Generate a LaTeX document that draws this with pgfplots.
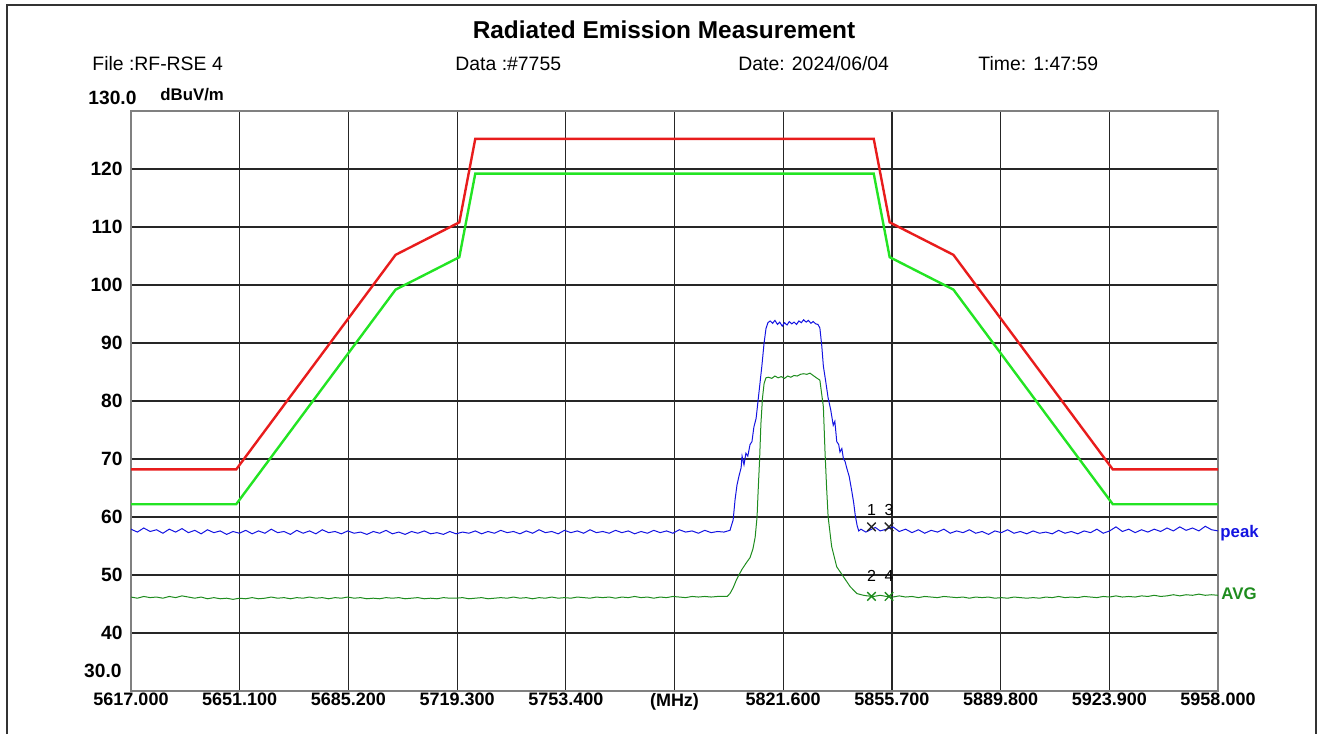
\documentclass[border=0pt]{standalone}
\usepackage{pgfplots}
\pgfplotsset{compat=1.18}
\usepackage{fontspec}
\setmainfont{Liberation Sans}

\definecolor{limred}{RGB}{232,28,28}
\definecolor{limgreen}{RGB}{35,228,35}
\definecolor{pkblue}{RGB}{20,20,225}
\definecolor{avgreen}{RGB}{30,140,30}

\begin{document}
\begin{tikzpicture}
% page = 1323 x 734 px, 1 px = 0.5 pt
\useasboundingbox (0,0) rectangle (661.5pt,367pt);
\draw[black!80, line width=1.3pt] (3.5pt,0) -- (3.5pt,364.5pt) -- (658pt,364.5pt) -- (658pt,0);

\node[font=\bfseries\fontsize{12.2}{14}\selectfont] at (332pt,352pt) {Radiated Emission Measurement};
\begin{scope}[every node/.style={anchor=west, inner sep=0pt, font=\fontsize{9.7}{11}\selectfont}]
  \node at (46pt,335pt) {File :RF-RSE 4};
  \node at (227.5pt,335pt) {Data :\#7755};
  \node at (369pt,335pt) {Date: 2024/06/04};
  \node at (489pt,335pt) {Time: 1:47:59};
  \node[font=\bfseries\fontsize{9.6}{11}\selectfont] at (44pt,318pt) {130.0};
  \node[font=\bfseries\fontsize{8.4}{10}\selectfont] at (80pt,319.5pt) {dBuV/m};
\end{scope}
\node[anchor=east, inner sep=0pt, font=\bfseries\fontsize{9.6}{11}\selectfont] at (61pt,31.5pt) {30.0};

\begin{axis}[
  at={(65.5pt,21.5pt)}, anchor=south west,
  scale only axis, width=543.5pt, height=290pt,
  xmin=5617, xmax=5958, ymin=30, ymax=130,
  xtick={5651.1,5685.2,5719.3,5753.4,5787.5,5821.6,5855.7,5889.8,5923.9},
  xticklabels={5651.100,5685.200,5719.300,5753.400,(MHz),5821.600,5855.700,5889.800,5923.900},
  extra x ticks={5617,5958},
  extra x tick labels={5617.000,5958.000},
  extra x tick style={grid=none},
  ytick={40,50,...,120},
  /pgf/number format/assume math mode=true,
  grid=major,
  major grid style={black!85, line width=0.6pt},
  axis line style={black!50, line width=1pt},
  tick style={draw=none},
  x tick label style={font=\bfseries\fontsize{9}{10}\selectfont, inner sep=1pt},
  y tick label style={font=\bfseries\fontsize{9.6}{11}\selectfont, inner sep=1pt, xshift=-3pt},
  clip mode=individual,
]
% limit lines
\addplot[limred, line width=1.2pt] coordinates {
  (5617,68.2) (5650,68.2) (5700,105.2) (5720,110.8) (5725,125.2)
  (5850,125.2) (5855,110.8) (5875,105.2) (5925,68.2) (5958,68.2)};
\addplot[limgreen, line width=1.2pt] coordinates {
  (5617,62.2) (5650,62.2) (5700,99.2) (5720,104.8) (5725,119.2)
  (5850,119.2) (5855,104.8) (5875,99.2) (5925,62.2) (5958,62.2)};

% peak trace
\addplot[pkblue, line width=0.5pt] coordinates {
  (5617,57.9) (5619,57.4) (5621,58.1) (5623,57.5) (5625,57.8) (5627,57.2) (5629,57.9) (5631,57.4)
  (5633,58.0) (5635,57.3) (5637,57.7) (5639,57.1) (5641,57.8) (5643,57.3) (5645,57.6) (5647,57.0)
  (5649,57.5) (5651,57.2) (5653,57.7) (5655,57.1) (5657,57.6) (5659,57.2) (5661,57.9) (5663,57.3)
  (5665,57.5) (5667,57.0) (5669,57.7) (5671,57.2) (5673,57.6) (5675,57.1) (5677,57.8) (5679,57.3)
  (5681,57.5) (5683,57.1) (5685,57.6) (5687,57.2) (5689,57.4) (5691,57.0) (5693,57.5) (5695,57.2)
  (5697,57.7) (5699,57.1) (5701,57.4) (5703,57.0) (5705,57.5) (5707,57.2) (5709,57.6) (5711,57.1)
  (5713,57.3) (5715,57.0) (5717,57.5) (5719,57.1) (5721,57.4) (5723,57.2) (5725,57.6) (5727,57.1)
  (5729,57.5) (5731,57.2) (5733,57.7) (5735,57.3) (5737,57.5) (5739,57.1) (5741,57.6) (5743,57.2)
  (5745,57.8) (5747,57.3) (5749,57.5) (5751,57.1) (5753,57.7) (5755,57.3) (5757,57.6) (5759,57.2)
  (5761,57.8) (5763,57.3) (5765,57.5) (5767,57.2) (5769,57.7) (5771,57.3) (5773,57.6) (5775,57.1)
  (5777,57.5) (5779,57.2) (5781,57.7) (5783,57.3) (5785,57.6) (5787,57.2) (5789,57.8) (5791,57.4)
  (5793,57.6) (5795,57.2) (5797,57.7) (5799,57.3) (5801,57.5) (5803,57.4) (5804.9,57.7)
  (5805.9,59.5) (5806.5,63.0) (5807.1,65.5) (5807.7,67.0) (5808.4,68.5) (5808.7,70.5) (5809.3,69.0)
  (5809.9,71.0) (5810.5,70.5) (5811.2,72.5) (5811.8,73.0) (5812.4,75.5) (5813.1,77.0) (5813.7,80.0)
  (5814.3,83.0) (5814.9,86.0) (5815.6,90.0) (5816.2,92.5) (5816.8,93.5)
  (5817.5,93.8) (5818.3,93.4) (5819.0,93.9) (5819.8,93.2) (5820.5,93.6) (5821.3,92.9) (5822.0,93.5)
  (5822.8,93.1) (5823.5,93.7) (5824.3,93.3) (5825.0,93.6) (5825.8,93.2) (5826.5,93.8) (5827.3,93.5)
  (5828.0,94.0) (5828.8,93.6) (5829.5,93.9) (5830.3,93.4) (5831.0,93.7) (5831.8,93.3) (5832.5,93.2)
  (5833.1,92.6) (5833.7,89.5) (5834.2,86.0) (5834.9,83.5) (5835.7,80.5) (5836.5,78.5) (5837.3,75.8)
  (5837.8,76.5) (5838.4,73.0) (5839.0,72.5) (5839.4,71.2) (5840.0,71.8) (5840.5,70.0) (5841.0,69.6)
  (5841.5,68.5) (5842.3,67.0) (5843.1,64.5) (5843.7,62.5) (5844.2,60.3) (5844.8,58.5) (5845.3,57.6)
  (5846,57.9) (5847.5,57.4) (5849,57.8) (5850.5,58.2) (5852,57.6) (5854,57.9) (5856,58.3) (5858,57.5)
  (5860,57.9) (5862,57.3) (5864,57.8) (5866,57.2) (5868,57.7) (5870,57.4) (5872,57.9) (5874,57.2)
  (5876,57.6) (5878,57.3) (5880,57.8) (5882,57.2) (5884,57.5) (5886,57.0) (5888,57.6) (5890,57.3)
  (5892,57.8) (5894,57.2) (5896,57.5) (5898,57.1) (5900,57.6) (5902,57.2) (5904,57.4) (5906,57.1)
  (5908,57.7) (5910,57.2) (5912,57.5) (5914,57.1) (5916,57.6) (5918,57.3) (5920,57.9) (5922,57.2)
  (5924,57.6) (5926,58.3) (5928,57.5) (5930,57.9) (5932,57.3) (5934,57.8) (5936,57.4) (5938,57.9)
  (5940,57.5) (5942,58.1) (5944,57.6) (5946,58.3) (5948,57.7) (5950,58.1) (5952,57.6) (5954,58.4)
  (5956,57.8) (5958,57.6)};

% average trace
\addplot[avgreen, line width=0.5pt] coordinates {
  (5617,46.2) (5619,46.0) (5621,46.3) (5623,46.1) (5625,46.2) (5627,46.0) (5629,46.3) (5631,46.1)
  (5633,46.4) (5635,46.2) (5637,46.0) (5639,46.2) (5641,45.9) (5643,46.1) (5645,45.9) (5647,46.0)
  (5649,45.8) (5651,46.0) (5653,45.9) (5655,46.1) (5657,45.9) (5659,46.0) (5661,46.2) (5663,46.0)
  (5665,46.1) (5667,45.9) (5669,46.1) (5671,46.0) (5673,46.2) (5675,46.0) (5677,46.1) (5679,45.9)
  (5681,46.1) (5683,46.0) (5685,46.2) (5687,46.0) (5689,46.1) (5691,45.9) (5693,46.0) (5695,45.9)
  (5697,46.1) (5699,46.0) (5701,46.1) (5703,45.9) (5705,46.0) (5707,46.1) (5709,45.9) (5711,46.0)
  (5713,45.9) (5715,46.1) (5717,46.0) (5719,46.0) (5721,46.1) (5723,45.9) (5725,46.0) (5727,46.1)
  (5729,45.9) (5731,46.0) (5733,46.1) (5735,46.0) (5737,46.2) (5739,46.0) (5741,46.1) (5743,45.9)
  (5745,46.1) (5747,46.0) (5749,46.2) (5751,46.0) (5753,46.1) (5755,46.0) (5757,46.2) (5759,46.1)
  (5761,46.0) (5763,46.2) (5765,46.1) (5767,46.2) (5769,46.0) (5771,46.2) (5773,46.1) (5775,46.3)
  (5777,46.1) (5779,46.2) (5781,46.0) (5783,46.2) (5785,46.1) (5787,46.3) (5789,46.2) (5791,46.1)
  (5793,46.3) (5795,46.2) (5797,46.3) (5799,46.2) (5801,46.3) (5803,46.3)
  (5804.0,46.3) (5804.9,46.8) (5805.9,47.8) (5806.8,49.0) (5807.7,50.0) (5808.7,51.0) (5809.9,52.0)
  (5811.2,53.0) (5812.1,54.5) (5812.8,56.5) (5813.4,60.0) (5813.7,64.0) (5814.2,70.0) (5814.6,76.0)
  (5815.1,80.5) (5815.6,83.0) (5816.2,84.0)
  (5817,84.1) (5818,83.9) (5819,84.3) (5820,84.0) (5821,84.2) (5822,83.9) (5823,84.3) (5824,84.1)
  (5825,84.4) (5826,84.3) (5827,84.6) (5828,84.7) (5829,84.6) (5830,84.8) (5831,84.4) (5832,84.0)
  (5833.1,83.6) (5834.2,79.0) (5834.7,71.5) (5835.2,65.2) (5835.7,60.0) (5836.8,54.9) (5838.4,51.4)
  (5840.5,49.7) (5842.6,48.0) (5844.7,46.8) (5846.8,46.5)
  (5848,46.4) (5850,46.3) (5852,46.5) (5854,46.3) (5856,46.2) (5858,46.4) (5860,46.2) (5862,46.3)
  (5864,46.1) (5866,46.3) (5868,46.2) (5870,46.1) (5872,46.3) (5874,46.2) (5876,46.1) (5878,46.2)
  (5880,46.0) (5882,46.2) (5884,46.1) (5886,46.2) (5888,46.0) (5890,46.1) (5892,46.0) (5894,46.2)
  (5896,46.1) (5898,46.0) (5900,46.1) (5902,46.0) (5904,46.2) (5906,46.1) (5908,46.3) (5910,46.1)
  (5912,46.2) (5914,46.1) (5916,46.3) (5918,46.2) (5920,46.1) (5922,46.3) (5924,46.2) (5926,46.4)
  (5928,46.2) (5930,46.3) (5932,46.2) (5934,46.4) (5936,46.3) (5938,46.5) (5940,46.3) (5942,46.4)
  (5944,46.6) (5946,46.4) (5948,46.6) (5950,46.5) (5952,46.7) (5954,46.5) (5956,46.6) (5958,46.5)};

% markers
\addplot[only marks, mark=x, mark size=3pt, black!85, line width=0.7pt] coordinates {(5849.3,58.3) (5854.8,58.3)};
\addplot[only marks, mark=x, mark size=3pt, avgreen, line width=0.7pt] coordinates {(5849.3,46.3) (5854.8,46.3)};
\begin{scope}[every node/.style={inner sep=0pt, font=\fontsize{8}{9}\selectfont}]
  \node at (axis cs:5849.3,61.2) {1};
  \node at (axis cs:5854.8,61.2) {3};
  \node at (axis cs:5849.3,49.8) {2};
  \node at (axis cs:5854.8,49.8) {4};
\end{scope}
\node[anchor=west, inner sep=1pt, text=pkblue, font=\bfseries\fontsize{8.4}{10}\selectfont] at (axis cs:5958,57.2) {peak};
\node[anchor=west, inner sep=1.5pt, text=avgreen, font=\bfseries\fontsize{8.4}{10}\selectfont] at (axis cs:5958,46.7) {AVG};
\end{axis}
\end{tikzpicture}
\end{document}
